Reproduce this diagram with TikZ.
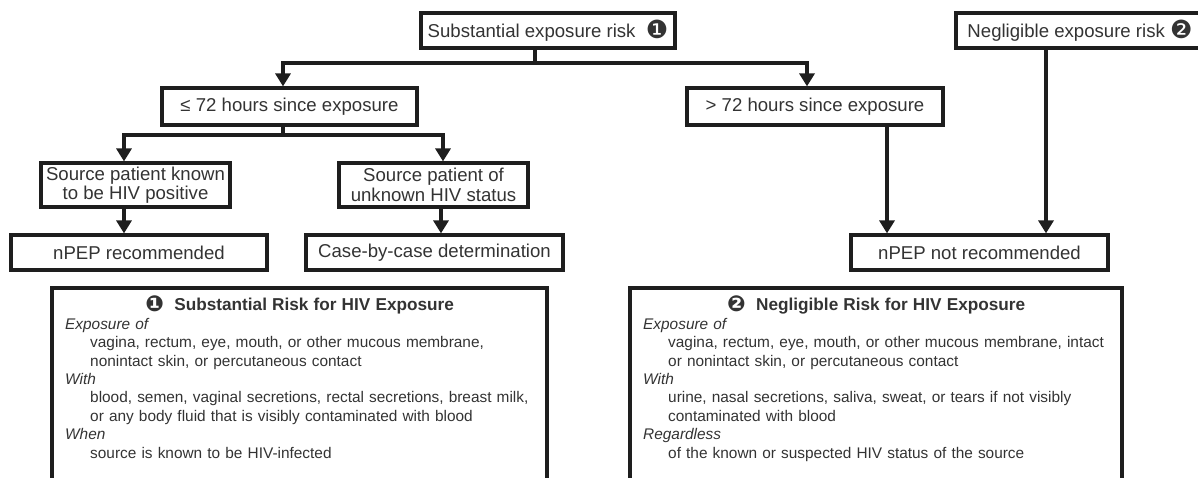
\documentclass[tikz,border=0pt]{standalone}
\usepackage{fontspec}
\setmainfont{Liberation Sans}
\newfontfamily\dingfont{DejaVu Sans}
\usetikzlibrary{arrows.meta}
\definecolor{ink}{HTML}{1E1E1E}
\definecolor{txt}{HTML}{333333}
\newcommand\dnum[1]{\raisebox{-1.5pt}{\dingfont\fontsize{25}{25}\selectfont #1}}
\newcommand\tnum[1]{\raisebox{-1pt}{\dingfont\fontsize{22}{22}\selectfont #1}}
\newcommand\ind{\hspace*{25pt}}
\tikzset{
  box/.style={draw=ink, line width=3.2pt, rectangle, inner sep=0pt, align=center,
    font=\fontsize{18.6}{19.5}\selectfont, text=txt},
  conn/.style={draw=ink, line width=4.8pt},
  arr/.style={conn, -{Triangle[width=15pt,length=13pt]}},
  frame/.style={draw=ink, line width=3.2pt},
  infotext/.style={anchor=north west, inner sep=0pt, text width=490pt, align=left,
    font=\fontsize{15.4}{18.4}\selectfont, text=txt}
}
\begin{document}
\begin{tikzpicture}[x=1pt,y=-1pt]
\useasboundingbox (0,0) rectangle (1198,477);
% boxes
\node[box, minimum width=254pt, minimum height=35pt] (sub) at (548,30.5) {Substantial exposure risk\ \ \dnum{❶}};
\node[box, minimum width=246pt, minimum height=35pt] (neg) at (1079,30.5) {\hspace*{2pt}Negligible exposure risk\ \dnum{❷}};
\node[box, minimum width=255pt, minimum height=37pt] (le72) at (289.5,106.5) {≤ 72 hours since exposure};
\node[box, minimum width=256pt, minimum height=37pt] (gt72) at (815,106.5) {> 72 hours since exposure};
\node[box, minimum width=189pt, minimum height=44pt] (known) at (135.5,185) {Source patient known\\to be HIV positive};
\node[box, minimum width=189pt, minimum height=44pt] (unknown) at (433.5,185) {Source patient of\\unknown HIV status};
\node[box, minimum width=256pt, minimum height=35pt] (rec) at (139,252.5) {nPEP recommended};
\node[box, minimum width=257pt, minimum height=35pt] (case) at (434.5,252.5) {Case-by-case determination};
\node[box, minimum width=257pt, minimum height=35pt] (notrec) at (979.5,252.5) {nPEP not recommended};
% connectors
\coordinate (j1) at (535,63);
\coordinate (xa) at (283,0);
\coordinate (xb) at (807,0);
\draw[arr] (sub.south -| j1) -- (j1) -| (le72.north -| xa);
\draw[arr] (j1) -| (gt72.north -| xb);
\coordinate (j2) at (283,135);
\coordinate (xc) at (124,0);
\coordinate (xd) at (443,0);
\draw[arr] (le72.south -| j2) -- (j2) -| (known.north -| xc);
\draw[arr] (j2) -| (unknown.north -| xd);
\coordinate (xe) at (441,0);
\draw[arr] (known.south -| xc) -- (rec.north -| xc);
\draw[arr] (unknown.south -| xe) -- (case.north -| xe);
\coordinate (xf) at (887,0);
\coordinate (xg) at (1046,0);
\draw[arr] (gt72.south -| xf) -- (notrec.north -| xf);
\draw[arr] (neg.south -| xg) -- (notrec.north -| xg);
% info boxes
\draw[frame] (52,288) rectangle (547,540);
\draw[frame] (630,288) rectangle (1122,540);
\node[infotext] (info1) at (65,296) {%
\makebox[469pt]{\fontsize{17.2}{18.4}\selectfont\bfseries\tnum{❶}\ \ Substantial Risk for HIV Exposure}\par
\textit{Exposure of}\par
\ind vagina, rectum, eye, mouth, or other mucous membrane,\par
\ind nonintact skin, or percutaneous contact\par
\textit{With}\par
\ind blood, semen, vaginal secretions, rectal secretions, breast milk,\par
\ind or any body fluid that is visibly contaminated with blood\par
\textit{When}\par
\ind source is known to be HIV-infected\par};
\node[infotext] (info2) at (643,296) {%
\makebox[466pt]{\fontsize{17.2}{18.4}\selectfont\bfseries\tnum{❷}\ \ Negligible Risk for HIV Exposure}\par
\textit{Exposure of}\par
\ind vagina, rectum, eye, mouth, or other mucous membrane, intact\par
\ind or nonintact skin, or percutaneous contact\par
\textit{With}\par
\ind urine, nasal secretions, saliva, sweat, or tears if not visibly\par
\ind contaminated with blood\par
\textit{Regardless}\par
\ind of the known or suspected HIV status of the source\par};
\end{tikzpicture}
\end{document}
